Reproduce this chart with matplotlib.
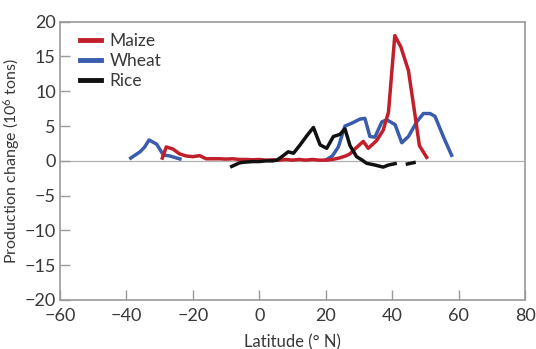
import numpy as np
import matplotlib
matplotlib.use("Agg")
import matplotlib.pyplot as plt

plt.rcParams['font.family'] = ['Lato', 'DejaVu Sans']
plt.rcParams['mathtext.default'] = 'regular'

maize_lat = [-29.2, -28, -26, -24, -22, -20, -18, -16, -14, -12, -10, -8, -6, -4, -2, 0,
             2, 4, 6, 8, 10, 12, 14, 16, 18, 20, 22, 24, 26, 27.3, 29, 31.3, 32.8, 35.3,
             37.3, 38.9, 40.8, 42.6, 44.9, 46.6, 48.2, 50.4]
maize_val = [0.4, 2.0, 1.7, 1.0, 0.7, 0.6, 0.75, 0.3, 0.3, 0.3, 0.25, 0.3, 0.2, 0.2, 0.15, 0.2,
             0.1, 0.15, 0.1, 0.2, 0.1, 0.2, 0.1, 0.2, 0.1, 0.1, 0.2, 0.4, 0.7, 1.0, 1.8, 2.8, 1.8, 2.9,
             4.4, 7.0, 18.0, 16.4, 13.0, 7.5, 2.2, 0.5]

wheat_lat = [-38.7, -35.9, -34.5, -33.2, -30.9, -28.9, -26.9, -25.5, -23.9, np.nan,
             20.3, 22, 23.8, 25.8, 27.8, 30.3, 31.8, 33.3, 34.8, 36.9, 38.4, 40.9, 42.9,
             44.9, 47.4, 49.4, 51.4, 52.9, 55.4, 57.9]
wheat_val = [0.4, 1.3, 2.0, 3.0, 2.4, 0.85, 0.7, 0.5, 0.27, np.nan,
             0.2, 0.7, 2.0, 5.0, 5.4, 6.0, 6.1, 3.5, 3.4, 5.6, 5.9, 5.2, 2.6,
             3.5, 5.6, 6.8, 6.8, 6.4, 3.5, 0.8]

rice_lat = [-8.3, -6, -4.8, -2, 0, 2, 4, 5.3, 6.8, 8.7, 10.3, 12.3, 14.3, 16.3, 18.3, 20.3,
            22.3, 24.3, 25.8, 27.3, 29.3, 31.0, 32.3, 34.8, 37.3, 38.9, 40.9, np.nan, 44.6, 46.6]
rice_val = [-0.8, -0.3, -0.2, -0.1, -0.1, 0.0, 0.0, 0.1, 0.6, 1.3, 1.1, 2.3, 3.6, 4.8, 2.3, 1.8,
            3.5, 3.8, 4.6, 2.2, 0.6, 0.1, -0.35, -0.6, -0.9, -0.6, -0.4, np.nan, -0.45, -0.25]

xticks = [-60, -40, -20, 0, 20, 40, 60, 80]
yticks = [-20, -15, -10, -5, 0, 5, 10, 15, 20]

fig = plt.figure(figsize=(5.36, 3.49), dpi=100)
ax = fig.add_axes([60/536, 1 - 300/349, 465/536, 278.3/349])

ax.axhline(0, color='#b0b0b0', lw=0.9, zorder=1)
lw = 2.5
ax.plot(maize_lat, maize_val, color='#C1202B', lw=lw, label='Maize', zorder=3)
ax.plot(wheat_lat, wheat_val, color='#3A5CAD', lw=lw, label='Wheat', zorder=2)
ax.plot(rice_lat, rice_val, color='#111111', lw=lw, label='Rice', zorder=4)

ax.set_xlim(-60, 80)
ax.set_ylim(-20, 20)
ax.set_xticks(xticks)
ax.set_yticks(yticks)
for s in ax.spines.values():
    s.set_color('#9a9a9a')
    s.set_linewidth(1.2)
ax.tick_params(direction='in', length=7, width=1.0, color='#9a9a9a',
               labelsize=13, labelcolor='#383838', pad=3)
ax.tick_params(axis='x', pad=6)

ax.set_xlabel('Latitude (° N)', fontsize=12, color='#383838', labelpad=7)
ax.set_ylabel('Production change (10$^6$ tons)', fontsize=11.5, color='#383838', labelpad=2)

leg = ax.legend(loc='upper left', frameon=False, fontsize=12.5, handlelength=1.2,
                handletextpad=0.5, labelspacing=0.25, borderaxespad=0.0,
                bbox_to_anchor=(0.028, 0.985))
for t in leg.get_texts():
    t.set_color('#383838')
for h in leg.get_lines():
    h.set_linewidth(3.5)

fig.savefig('out.png', dpi=100)
